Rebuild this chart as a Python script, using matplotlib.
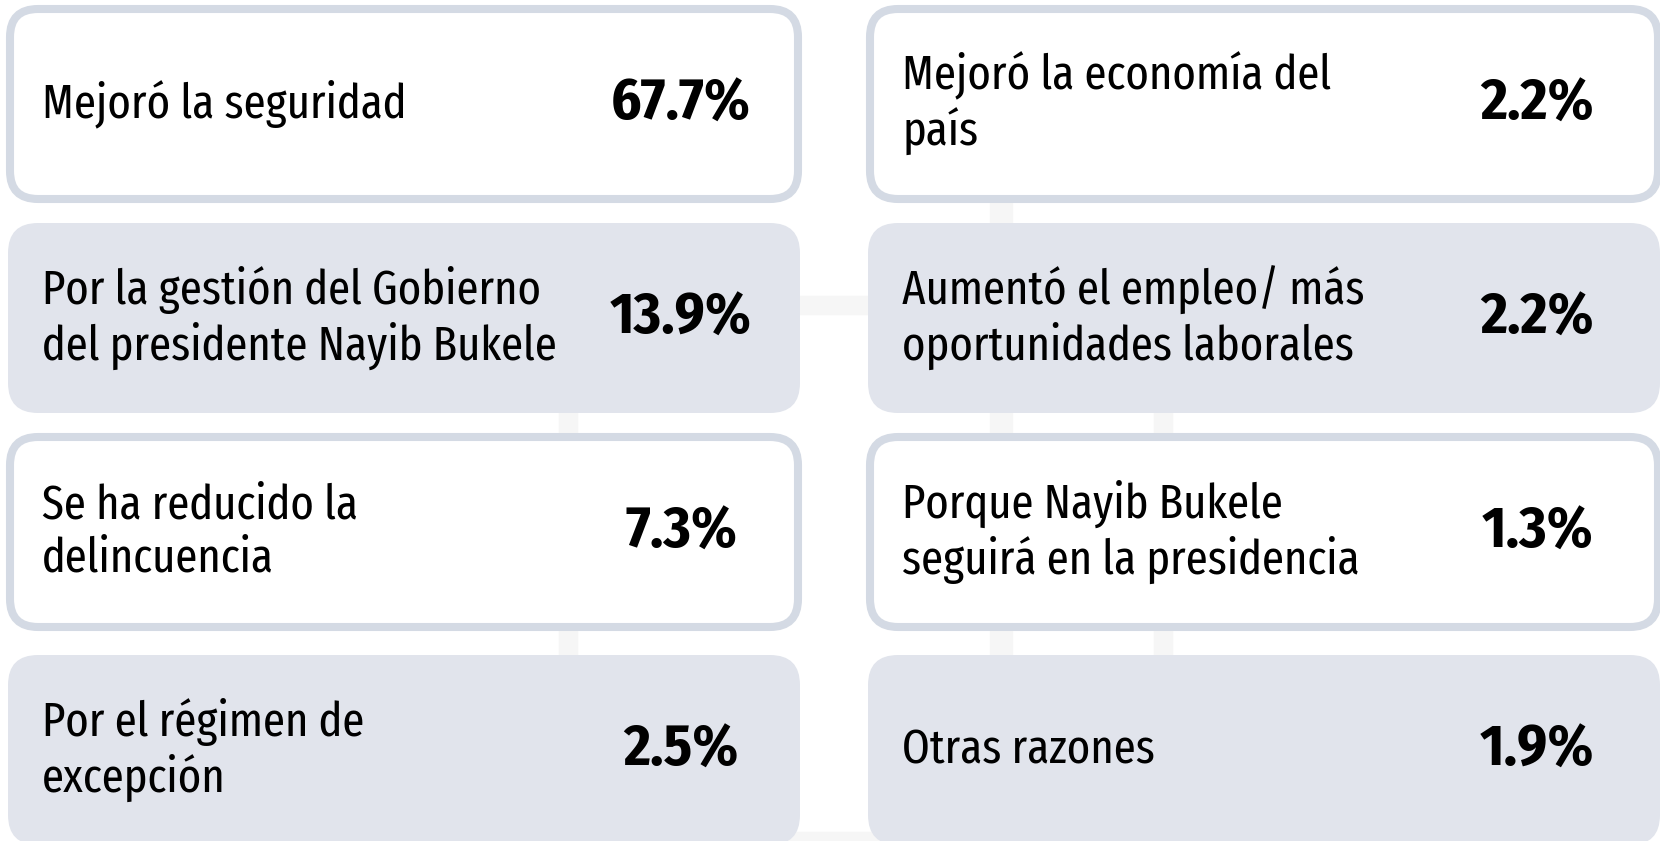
import matplotlib
matplotlib.use("Agg")
import matplotlib.pyplot as plt
from matplotlib.patches import FancyBboxPatch, Rectangle

# Reasons and their shares (%), read column by column
labels_left = ["Mejoró la seguridad",
               "Por la gestión del Gobierno\ndel presidente Nayib Bukele",
               "Se ha reducido la\ndelincuencia",
               "Por el régimen de\nexcepción"]
values_left = [67.7, 13.9, 7.3, 2.5]

labels_right = ["Mejoró la economía del\npaís",
                "Aumentó el empleo/ más\noportunidades laborales",
                "Porque Nayib Bukele\nseguirá en la presidencia",
                "Otras razones"]
values_right = [2.2, 2.2, 1.3, 1.9]

label_font = "Fira Sans Extra Condensed"
value_font = "Fira Sans Condensed"

W, H = 1660, 841
fig = plt.figure(figsize=(W / 100, H / 100), dpi=100)
ax = fig.add_axes([0, 0, 1, 1])
ax.set_xlim(0, W)
ax.set_ylim(H, 0)
ax.axis("off")

border_col = "#d4dae4"
fill_col = "#e1e4ec"

# very faint watermark (cross + frame) behind the boxes
wm = "#f6f6f6"
ax.add_patch(Rectangle((990, 150), 22, 691, color=wm, zorder=0))
ax.add_patch(Rectangle((925, 168), 175, 18, color=wm, zorder=0))
ax.add_patch(Rectangle((568, 305), 595, 536, fill=False, ec=wm, lw=14, zorder=0))

col_x = [10, 870]
row_y = [9, 223, 437, 655]
box_w, box_h = 788, 190
label_dx = 32
value_cx = [681, 1537]

for c, (labels, values) in enumerate([(labels_left, values_left),
                                      (labels_right, values_right)]):
    for r, (lab, val) in enumerate(zip(labels, values)):
        x0, y0 = col_x[c], row_y[r]
        if r % 2 == 0:
            patch = FancyBboxPatch((x0, y0), box_w, box_h,
                                   boxstyle="round,pad=0,rounding_size=28",
                                   fc="white", ec=border_col, lw=5.8, zorder=2)
        else:
            patch = FancyBboxPatch((x0 - 2, y0), box_w + 4, box_h,
                                   boxstyle="round,pad=0,rounding_size=30",
                                   fc=fill_col, ec="none", zorder=2)
        ax.add_patch(patch)
        cy = y0 + box_h / 2
        ax.text(x0 + label_dx, cy, lab, ha="left", va="center",
                fontsize=35, family=label_font, fontweight="normal",
                color="black", linespacing=1.2, zorder=3)
        ax.text(value_cx[c], cy, f"{val:.1f}%", ha="center", va="center",
                fontsize=42, family=value_font, fontweight="bold",
                color="black", zorder=3)

fig.savefig("out.png", dpi=100)
